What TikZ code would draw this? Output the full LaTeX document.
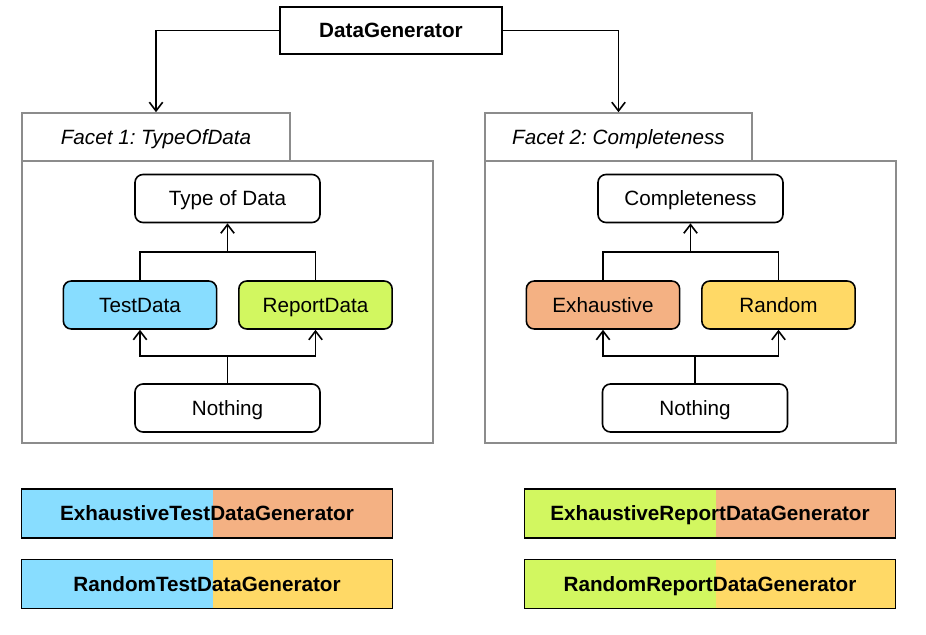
\documentclass[tikz,border=0pt]{standalone}
\usepackage{fontspec}
\setmainfont{Liberation Sans}
\usetikzlibrary{arrows.meta, calc}
\frenchspacing

\definecolor{tdblue}{HTML}{88DDFF}
\definecolor{rdgreen}{HTML}{D2F760}
\definecolor{exorange}{HTML}{F4B183}
\definecolor{rayellow}{HTML}{FFD966}
\definecolor{facetgray}{HTML}{8C8C8C}

\newcommand{\diagfont}{\fontsize{15.5}{18}\selectfont}

\tikzset{
    txt/.style = {inner sep=0pt, text height=11.2pt, text depth=0pt},
    gen/.style = {draw, line width=1.2pt, txt, font=\diagfont\bfseries,
        minimum width=166.5pt, minimum height=35.25pt},
    facethead/.style = {draw=facetgray, line width=1.2pt, txt, font=\diagfont\itshape,
        minimum width=201pt, minimum height=36pt},
    facetbox/.style = {draw=facetgray, line width=1.2pt,
        minimum width=308.25pt, minimum height=211.5pt},
    value/.style = {draw, line width=1.2pt, rounded corners=6pt, txt, font=\diagfont,
        minimum width=115pt, minimum height=36pt},
    root/.style = {value, minimum width=138.75pt},
    combo/.style 2 args = {draw, line width=1.2pt, txt, font=\diagfont\bfseries,
        fill=#2, minimum width=278pt, minimum height=36.75pt,
        path picture={\fill[#1] (path picture bounding box.south west) rectangle
            ($(path picture bounding box.north west)!0.516!(path picture bounding box.north east)$);}},
    link/.style = {line width=1.2pt},
    up/.style = {link, -{Straight Barb[length=6.5pt, width=10pt]}}
}

\begin{document}
\begin{tikzpicture} [x=0.75pt, y=-0.75pt, font=\diagfont]
    \useasboundingbox (0,0) rectangle (926,635);

    \node (dg) [gen] at (391,30.5) {DataGenerator};

    % facet 1
    \node (f1box) [facetbox] at (227.5,302) {};
    \node (f1head) [facethead] at (156,137) {Facet 1: TypeOfData};
    \node (tod) [root] at (227.5,198.5) {Type of Data};
    \node (td) [value, fill=tdblue] at (140,305) {TestData};
    \node (rd) [value, fill=rdgreen] at (315.5,305) {ReportData};
    \node (no1) [root] at (227.5,408) {Nothing};

    % facet 2
    \node (f2box) [facetbox] at (690.5,302) {};
    \node (f2head) [facethead, minimum width=200.25pt] at (618.5,137) {Facet 2: Completeness};
    \node (comp) [root] at (690.5,198.5) {Completeness};
    \node (ex) [value, fill=exorange] at (603,305) {Exhaustive};
    \node (ra) [value, fill=rayellow] at (778.5,305) {Random};
    \node (no2) [root] at (695,408) {Nothing};

    % combinations
    \node (etdg) [combo={tdblue}{exorange}] at (207,513.5) {ExhaustiveTestDataGenerator};
    \node (rtdg) [combo={tdblue}{rayellow}] at (207,584) {RandomTestDataGenerator};
    \node (erdg) [combo={rdgreen}{exorange}] at (710,513.5) {ExhaustiveReportDataGenerator};
    \node (rrdg) [combo={rdgreen}{rayellow}] at (710,584) {RandomReportDataGenerator};

    \draw [up] (dg.west) -| (f1head.north);
    \draw [up] (dg.east) -| (f2head.north);

    \coordinate (j1) at (227.5,252);
    \coordinate (k1) at (227.5,356);
    \draw [link] (td.north) |- (j1) -| (rd.north);
    \draw [up] (j1) -- (tod.south);
    \draw [link] (no1.north) -- (k1);
    \draw [up] (k1) -| (td.south);
    \draw [up] (k1) -| (rd.south);

    \coordinate (j2) at (690.5,252);
    \coordinate (k2) at (695,356);
    \draw [link] (ex.north) |- (j2) -| (ra.north);
    \draw [up] (j2) -- (comp.south);
    \draw [link] (no2.north) -- (k2);
    \draw [up] (k2) -| (ex.south);
    \draw [up] (k2) -| (ra.south);
\end{tikzpicture}
\end{document}
